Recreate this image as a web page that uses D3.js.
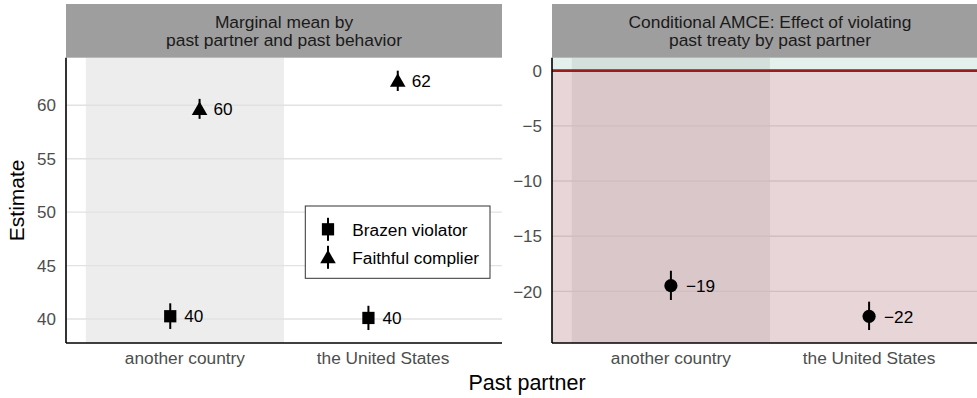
<!DOCTYPE html>
<html>
<head>
<meta charset="utf-8">
<script src="https://cdn.jsdelivr.net/npm/d3@7.9.0/dist/d3.min.js"></script>
<style>
  body { margin: 0; background: #fff; }
  svg { display: block; font-family: "Liberation Sans", Arial, sans-serif; }
</style>
</head>
<body>
<svg id="chart" width="977" height="398"></svg>
<script>
// data
const partners = ['another country', 'the United States'];
const behaviors = ['Brazen violator', 'Faithful complier'];
const mmEstimate = [[40.26, 40.1], [59.66, 62.29]];   // [behavior][partner]
const mmLower = [[39.07, 38.97], [58.73, 61.34]];
const mmUpper = [[41.47, 41.24], [60.6, 63.24]];
const amceEstimate = [-19.48, -22.26];
const amceLower = [-20.78, -23.5];
const amceUpper = [-18.13, -20.93];
const leftTicks = [40, 45, 50, 55, 60];
const rightTicks = [-20, -15, -10, -5, 0];

const svg = d3.select('#chart');
const pTop = 57.7, pBottom = 343, stripTop = 4;
const panelW = 436;
const tickCol = '#4d4d4d';

const shapes = [d3.symbolSquare, d3.symbolTriangle];
const shapeSize = [150, 105];

function expand(lo, hi) {
    const pad = (hi - lo) * 0.05;
    return [lo - pad, hi + pad];
}

function panel(x0, domain, ticks, stripLines) {
    const g = svg.append('g').attr('transform', `translate(${x0},0)`);
    const x = d3.scalePoint().domain(partners).range([0, panelW]).padding(0.6);
    const y = d3.scaleLinear().domain(domain).range([pBottom, pTop]);
    const step = x.step();

    // shaded band behind the first category
    g.append('rect')
        .attr('x', x(partners[0]) - step / 2).attr('y', pTop)
        .attr('width', step).attr('height', pBottom - pTop)
        .attr('fill', '#ededed');

    // grid
    g.selectAll('.grid').data(ticks).join('line')
        .attr('x1', 0).attr('x2', panelW)
        .attr('y1', d => y(d)).attr('y2', d => y(d))
        .attr('stroke', '#e2e2e2').attr('stroke-width', 1.4);

    // strip
    g.append('rect').attr('x', 0).attr('y', stripTop)
        .attr('width', panelW).attr('height', pTop - stripTop)
        .attr('fill', '#9e9e9e');
    stripLines.forEach((t, i) => {
        g.append('text').attr('x', panelW / 2).attr('y', 27.7 + i * 18.3)
            .attr('text-anchor', 'middle').attr('font-size', 17.4)
            .attr('fill', '#1a1a1a').text(t);
    });

    // y tick labels
    g.selectAll('.yt').data(ticks).join('text')
        .attr('x', -10).attr('y', d => y(d)).attr('dy', '0.36em')
        .attr('text-anchor', 'end').attr('font-size', 17)
        .attr('fill', tickCol).text(d => String(d).replace('-', '\u2212'));

    // x tick labels
    g.selectAll('.xt').data(partners).join('text')
        .attr('x', d => x(d)).attr('y', pBottom + 21)
        .attr('text-anchor', 'middle').attr('font-size', 17.3)
        .attr('fill', tickCol).text(d => d);

    return { g, x, y, step };
}

// ---- left panel: marginal means
const L = panel(66, expand(d3.min(mmLower.flat()), d3.max(mmUpper.flat())), leftTicks,
    ['Marginal mean by', 'past partner and past behavior']);
const dodge = L.step * 0.074;

behaviors.forEach((b, bi) => {
    partners.forEach((p, pi) => {
        const cx = L.x(p) + (bi === 0 ? -dodge : dodge);
        L.g.append('line')
            .attr('x1', cx).attr('x2', cx)
            .attr('y1', L.y(mmLower[bi][pi])).attr('y2', L.y(mmUpper[bi][pi]))
            .attr('stroke', '#000').attr('stroke-width', 2);
        L.g.append('path')
            .attr('d', d3.symbol(shapes[bi], shapeSize[bi])())
            .attr('transform', `translate(${cx},${L.y(mmEstimate[bi][pi]) + (bi === 1 ? 1.5 : 0)})`)
            .attr('fill', '#000');
        L.g.append('text')
            .attr('x', cx + 14).attr('y', L.y(mmEstimate[bi][pi])).attr('dy', '0.36em')
            .attr('font-size', 17.2).attr('fill', '#000')
            .text(Math.round(mmEstimate[bi][pi]));
    });
});

// legend
const lg = L.g.append('g').attr('transform', 'translate(239.3,206)');
lg.append('rect').attr('width', 184.7).attr('height', 72.3)
    .attr('fill', '#fff').attr('stroke', '#333').attr('stroke-width', 1);
behaviors.forEach((b, bi) => {
    const cy = 23.3 + bi * 28;
    lg.append('line').attr('x1', 22.7).attr('x2', 22.7)
        .attr('y1', cy - 11.5).attr('y2', cy + 11.5)
        .attr('stroke', '#000').attr('stroke-width', 2);
    lg.append('path').attr('d', d3.symbol(shapes[bi], shapeSize[bi])())
        .attr('transform', `translate(22.7,${cy + (bi === 1 ? 1.5 : 0)})`).attr('fill', '#000');
    lg.append('text').attr('x', 47).attr('y', cy).attr('dy', '0.36em')
        .attr('font-size', 17.3).attr('fill', '#000').text(b);
});

// left & bottom axis lines
L.g.append('line').attr('x1', 0).attr('x2', 0).attr('y1', pTop).attr('y2', pBottom)
    .attr('stroke', '#000').attr('stroke-width', 1.6);
L.g.append('line').attr('x1', 0).attr('x2', panelW).attr('y1', pBottom).attr('y2', pBottom)
    .attr('stroke', '#000').attr('stroke-width', 1.6);

// ---- right panel: conditional AMCE
const R = panel(552, expand(d3.min(amceLower), Math.max(0, d3.max(amceUpper))), rightTicks,
    ['Conditional AMCE: Effect of violating', 'past treaty by past partner']);

// negative / positive regions
R.g.append('rect').attr('x', 0).attr('width', panelW)
    .attr('y', R.y(0)).attr('height', pBottom - R.y(0))
    .attr('fill', 'rgb(150,64,77)').attr('fill-opacity', 0.22);
R.g.append('rect').attr('x', 0).attr('width', panelW)
    .attr('y', pTop).attr('height', R.y(0) - pTop)
    .attr('fill', 'rgb(60,150,110)').attr('fill-opacity', 0.14);
R.g.append('line').attr('x1', 0).attr('x2', panelW)
    .attr('y1', R.y(0)).attr('y2', R.y(0))
    .attr('stroke', '#981e1e').attr('stroke-width', 2.6);

partners.forEach((p, pi) => {
    const cx = R.x(p);
    R.g.append('line').attr('x1', cx).attr('x2', cx)
        .attr('y1', R.y(amceLower[pi])).attr('y2', R.y(amceUpper[pi]))
        .attr('stroke', '#000').attr('stroke-width', 2);
    R.g.append('circle').attr('cx', cx).attr('cy', R.y(amceEstimate[pi]))
        .attr('r', 6.6).attr('fill', '#000');
    R.g.append('text').attr('x', cx + 15).attr('y', R.y(amceEstimate[pi])).attr('dy', '0.36em')
        .attr('font-size', 17.2).attr('fill', '#000')
        .text(String(Math.round(amceEstimate[pi])).replace('-', '\u2212'));
});

R.g.append('line').attr('x1', 0).attr('x2', 0).attr('y1', pTop).attr('y2', pBottom)
    .attr('stroke', '#000').attr('stroke-width', 1.6);
R.g.append('line').attr('x1', 0).attr('x2', panelW).attr('y1', pBottom).attr('y2', pBottom)
    .attr('stroke', '#000').attr('stroke-width', 1.6);

// axis titles
svg.append('text').attr('x', 527).attr('y', 390)
    .attr('text-anchor', 'middle').attr('font-size', 21.5).attr('fill', '#000')
    .text('Past partner');
svg.append('text').attr('transform', `translate(24,${(pTop + pBottom) / 2}) rotate(-90)`)
    .attr('text-anchor', 'middle').attr('font-size', 21).attr('fill', '#000')
    .text('Estimate');
</script>
</body>
</html>
